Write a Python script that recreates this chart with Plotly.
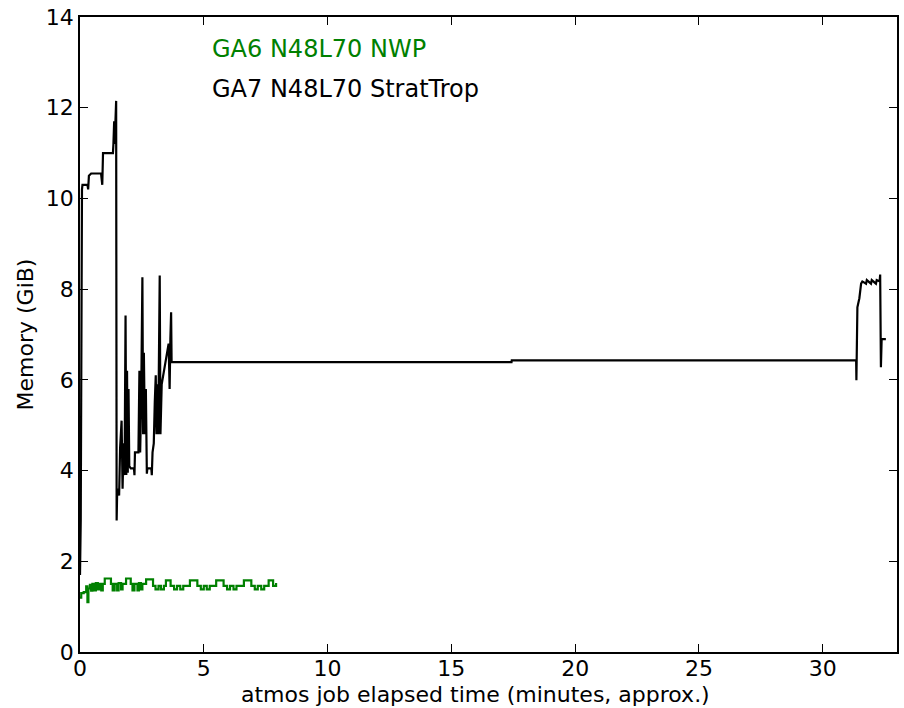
import plotly.graph_objects as go

# GA7 N48L70 StratTrop (black) - time (minutes), memory (GiB)
ga7_t = [0.00, 0.03, 0.08, 0.10, 0.30, 0.33, 0.36, 0.45, 0.85, 0.87, 0.90, 0.93,
         1.33, 1.35, 1.38, 1.40, 1.43, 1.46, 1.48, 1.50, 1.55, 1.58, 1.62, 1.68,
         1.72, 1.76, 1.80, 1.84, 1.87, 1.90, 1.93, 1.96, 1.99, 2.05, 2.18, 2.20,
         2.22, 2.36, 2.40, 2.43, 2.47, 2.52, 2.55, 2.58, 2.62, 2.66, 2.70, 2.72,
         2.88, 2.90, 2.93, 2.98, 3.02, 3.06, 3.09, 3.12, 3.16, 3.22, 3.25, 3.30,
         3.58, 3.62, 3.65, 3.68, 3.70, 17.43, 17.44, 31.35, 31.36, 31.40, 31.48,
         31.55, 31.60, 31.75, 31.78, 31.95, 31.98, 32.15, 32.18, 32.30, 32.32,
         32.35, 32.38, 32.55]
ga7_mem = [1.7, 2.9, 10.2, 10.3, 10.3, 10.2, 10.5, 10.55, 10.55, 10.3, 10.3, 11.0,
           11.0, 11.2, 11.7, 11.2, 12.1, 12.15, 2.9, 3.5, 3.6, 3.45, 4.5, 5.1,
           3.6, 4.6, 3.9, 7.42, 3.9, 6.2, 3.95, 5.8, 4.1, 4.05, 4.05, 3.9,
           4.4, 4.4, 6.2, 4.4, 5.5, 8.26, 4.8, 6.6, 4.8, 5.8, 3.93, 4.05,
           4.05, 3.9, 4.4, 4.6, 5.5, 6.1, 4.8, 5.9, 4.8, 8.3, 4.8, 5.9,
           6.8, 5.8, 6.9, 7.49, 6.39, 6.39, 6.43, 6.43, 5.99, 7.6, 7.8,
           8.12, 8.17, 8.12, 8.2, 8.12, 8.2, 8.12, 8.2, 8.17, 8.32,
           6.28, 6.9, 6.9]

# GA6 N48L70 NWP (green) - step samples
ga6_t = [0.00, 0.05, 0.15, 0.25, 0.30, 0.34, 0.40, 0.45, 0.50, 0.58, 0.64, 0.72,
         0.78, 0.86, 0.92, 1.00, 1.25, 1.32, 1.40, 1.50, 1.56, 1.66, 1.72, 1.86,
         2.05, 2.12, 2.20, 2.32, 2.38, 2.46, 2.52, 2.67, 2.95, 3.05, 3.17, 3.27,
         3.39, 3.47, 3.66, 3.80, 3.92, 4.05, 4.17, 4.44, 4.74, 4.88, 5.00, 5.12,
         5.24, 5.50, 5.80, 5.94, 6.06, 6.20, 6.32, 6.62, 6.92, 7.06, 7.18, 7.32,
         7.44, 7.62, 7.80, 7.92]
ga6_mem = [1.20, 1.30, 1.32, 1.45, 1.10, 1.40, 1.48, 1.35, 1.50, 1.36, 1.52, 1.38,
           1.50, 1.36, 1.50, 1.62, 1.50, 1.36, 1.50, 1.36, 1.52, 1.38, 1.50, 1.62,
           1.50, 1.36, 1.50, 1.36, 1.52, 1.38, 1.50, 1.60, 1.46, 1.38, 1.46, 1.38,
           1.46, 1.58, 1.46, 1.38, 1.46, 1.38, 1.46, 1.58, 1.46, 1.38, 1.46, 1.38,
           1.46, 1.58, 1.46, 1.38, 1.46, 1.38, 1.46, 1.58, 1.46, 1.38, 1.46, 1.38,
           1.46, 1.58, 1.46, 1.52]

x_ticks = [0, 5, 10, 15, 20, 25, 30]
y_ticks = [0, 2, 4, 6, 8, 10, 12, 14]
legend_labels = ["GA6 N48L70 NWP", "GA7 N48L70 StratTrop"]
legend_colors = ["#008000", "#000000"]
x_title = "atmos job elapsed time (minutes, approx.)"
y_title = "Memory (GiB)"

FONT = "DejaVu Sans"

fig = go.Figure()
fig.add_trace(go.Scatter(x=ga6_t, y=ga6_mem, mode="lines", line_shape="hv",
                         line=dict(color=legend_colors[0], width=2.2),
                         name=legend_labels[0], showlegend=False))
fig.add_trace(go.Scatter(x=ga7_t, y=ga7_mem, mode="lines",
                         line=dict(color=legend_colors[1], width=2.2),
                         name=legend_labels[1], showlegend=False))

for i, (lab, col) in enumerate(zip(legend_labels, legend_colors)):
    fig.add_annotation(text=lab, xref="paper", yref="paper",
                       x=0.159, y=[0.949, 0.887][i], xanchor="left", yanchor="middle",
                       showarrow=False, font=dict(family=FONT, size=24, color=col))

fig.add_annotation(text=x_title, xref="paper", yref="paper", x=0.4835, y=-0.067,
                   xanchor="center", yanchor="middle", showarrow=False,
                   font=dict(family=FONT, size=22, color="black"))

axis_common = dict(showgrid=False, zeroline=False, showline=True, linecolor="black",
                   linewidth=1.5, mirror="ticks", ticks="inside", ticklen=8,
                   tickcolor="black", tickwidth=1,
                   tickfont=dict(family=FONT, size=22, color="black"))
fig.update_xaxes(range=[0, 33], tickvals=x_ticks, ticktext=[str(v) for v in x_ticks],
                 ticklabelstandoff=-4, **axis_common)
fig.update_yaxes(range=[0, 14], tickvals=y_ticks, ticktext=[str(v) for v in y_ticks],
                 title=dict(text=y_title,
                            font=dict(family=FONT, size=22, color="black"), standoff=6),
                 **axis_common)
fig.update_layout(width=904, height=708, paper_bgcolor="white", plot_bgcolor="white",
                  margin=dict(l=80, r=5, t=16, b=56), showlegend=False)
fig.write_html("out.html")
